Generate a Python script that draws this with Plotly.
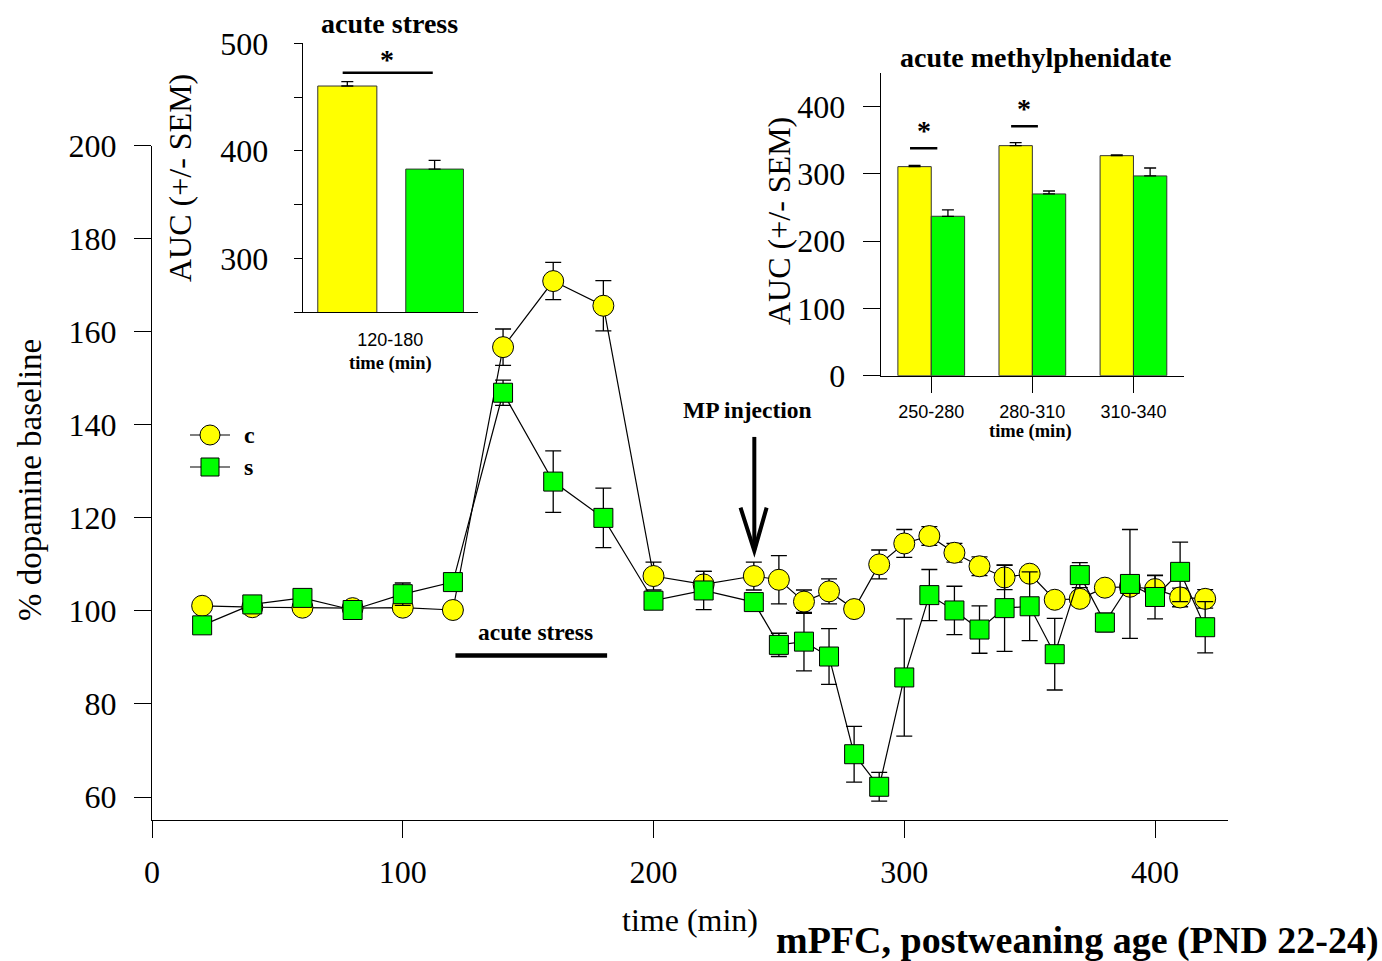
import plotly.graph_objects as go

# ---- time course: % dopamine baseline in mPFC ----
time_min = [20, 40, 60, 80, 100, 120, 140, 160, 180, 200, 220, 240, 250, 260, 270,
            280, 290, 300, 310, 320, 330, 340, 350, 360, 370, 380, 390, 400, 410, 420]
c_mean = [101.1, 100.8, 100.7, 100.6, 100.7, 100.2, 156.7, 170.9, 165.6, 107.5, 105.7,
          107.5, 106.7, 102.0, 104.2, 100.4, 110.0, 114.5, 116.1, 112.5, 109.6, 107.2,
          108.0, 102.4, 102.6, 105.0, 105.2, 104.7, 102.9, 102.6]
c_sem = [1.0, 1.0, 1.0, 1.0, 1.0, 1.0, 3.9, 4.0, 5.4, 3.0, 2.8, 3.0, 5.2, 2.5, 2.7,
         1.5, 3.1, 3.0, 2.0, 2.0, 2.0, 2.6, 1.5, 1.5, 1.5, 1.5, 1.5, 2.9, 2.0, 2.0]
s_mean = [96.9, 101.4, 102.8, 100.2, 103.6, 106.2, 146.9, 127.8, 120.0, 102.2, 104.4,
          101.9, 92.7, 93.4, 90.2, 69.2, 62.2, 85.7, 103.4, 100.1, 96.0, 100.6, 101.0,
          90.7, 107.7, 97.5, 105.8, 103.0, 108.4, 96.5]
s_sem = [1.0, 1.0, 1.0, 1.0, 2.4, 1.5, 2.7, 6.6, 6.4, 1.5, 4.1, 1.0, 2.5, 6.3, 6.0,
         6.0, 3.1, 12.6, 5.5, 5.2, 5.1, 9.3, 7.4, 7.7, 2.7, 2.0, 11.7, 4.7, 6.4, 5.5]

# ---- AUC inset: acute stress ----
stress_window = ["120-180"]
stress_auc_c = [460.3]
stress_sem_c = [4.0]
stress_auc_s = [383.1]
stress_sem_s = [8.1]

# ---- AUC inset: acute methylphenidate ----
mp_window = ["250-280", "280-310", "310-340"]
mp_auc_c = [310.8, 342.0, 327.1]
mp_sem_c = [2.0, 4.5, 1.0]
mp_auc_s = [237.0, 270.2, 297.0]
mp_sem_s = [9.4, 4.4, 11.8]

group_names = ["c", "s"]

W, H = 1382, 961
YELLOW = "#FFFF00"
GREEN = "#00FF00"
SERIF = "Liberation Serif"
SANS = "Liberation Sans"


def px(x):
    return x / W


def py(y):
    return 1 - y / H


fig = go.Figure()

# main time course
fig.add_trace(go.Scatter(
    x=time_min, y=c_mean, name=group_names[0], mode="lines+markers",
    line=dict(color="black", width=1.2),
    marker=dict(symbol="circle", size=21, color=YELLOW, line=dict(color="black", width=1)),
    error_y=dict(type="data", array=c_sem, color="black", thickness=1.3, width=8),
    xaxis="x", yaxis="y", showlegend=False,
))
fig.add_trace(go.Scatter(
    x=time_min, y=s_mean, name=group_names[1], mode="lines+markers",
    line=dict(color="black", width=1.2),
    marker=dict(symbol="square", size=19, color=GREEN, line=dict(color="black", width=1)),
    error_y=dict(type="data", array=s_sem, color="black", thickness=1.3, width=8),
    xaxis="x", yaxis="y", showlegend=False,
))

bar_line = dict(color="#333333", width=1)

# acute stress AUC bars
fig.add_trace(go.Bar(
    x=stress_window, y=stress_auc_c, marker=dict(color=YELLOW, line=bar_line),
    width=0.337, offset=-0.414, showlegend=False,
    error_y=dict(type="data", array=stress_sem_c, arrayminus=[0] * len(stress_sem_c),
                 symmetric=False, color="black", thickness=1.3, width=6),
    xaxis="x2", yaxis="y2",
))
fig.add_trace(go.Bar(
    x=stress_window, y=stress_auc_s, marker=dict(color=GREEN, line=bar_line),
    width=0.329, offset=0.088, showlegend=False,
    error_y=dict(type="data", array=stress_sem_s, arrayminus=[0] * len(stress_sem_s),
                 symmetric=False, color="black", thickness=1.3, width=6),
    xaxis="x2", yaxis="y2",
))

# methylphenidate AUC bars
fig.add_trace(go.Bar(
    x=mp_window, y=mp_auc_c, marker=dict(color=YELLOW, line=bar_line),
    width=0.33, offset=-0.33, showlegend=False,
    error_y=dict(type="data", array=mp_sem_c, arrayminus=[0] * len(mp_sem_c),
                 symmetric=False, color="black", thickness=1.3, width=6),
    xaxis="x3", yaxis="y3",
))
fig.add_trace(go.Bar(
    x=mp_window, y=mp_auc_s, marker=dict(color=GREEN, line=bar_line),
    width=0.33, offset=0.0, showlegend=False,
    error_y=dict(type="data", array=mp_sem_s, arrayminus=[0] * len(mp_sem_s),
                 symmetric=False, color="black", thickness=1.3, width=6),
    xaxis="x3", yaxis="y3",
))

axis_common = dict(showgrid=False, zeroline=False, showline=True, linecolor="black",
                   linewidth=1.3, tickcolor="black", tickwidth=1.3, automargin=False)

fig.update_layout(
    template="none",
    width=W, height=H,
    margin=dict(l=0, r=0, t=0, b=0, autoexpand=False),
    paper_bgcolor="white", plot_bgcolor="rgba(0,0,0,0)",
    barmode="overlay",
    showlegend=False,
    xaxis=dict(**axis_common, domain=[px(152), px(1228)], range=[0, 429.1],
               tickvals=[0, 100, 200, 300, 400], ticks="outside", ticklen=17,
               ticklabelstandoff=6,
               tickfont=dict(family=SERIF, size=32, color="black"), anchor="y"),
    yaxis=dict(**axis_common, domain=[py(820), py(145.7)], range=[55.06, 200],
               tickvals=[60, 80, 100, 120, 140, 160, 180, 200], ticks="outside", ticklen=17,
               ticklabelstandoff=11,
               tickfont=dict(family=SERIF, size=32, color="black"), anchor="x"),
    xaxis2=dict(**axis_common, domain=[px(302.7), px(478)], range=[-0.5, 0.5],
                type="category", ticks="", ticklabelstandoff=11,
                tickfont=dict(family=SANS, size=18, color="black"), anchor="y2"),
    yaxis2=dict(**axis_common, domain=[py(312.3), py(43.3)], range=[250, 500],
                tickvals=[250, 300, 350, 400, 450, 500],
                ticktext=["", "300", "", "400", "", "500"],
                ticks="outside", ticklen=8, ticklabelstandoff=19,
                tickfont=dict(family=SERIF, size=32, color="black"), anchor="x2"),
    xaxis3=dict(**axis_common, domain=[px(880.7), px(1184)], range=[-0.5, 2.5],
                type="category", ticks="outside", ticklen=16, ticklabelstandoff=4,
                tickfont=dict(family=SANS, size=18, color="black"), anchor="y3"),
    yaxis3=dict(**axis_common, domain=[py(375.7), py(73)], range=[0, 450],
                tickvals=[0, 100, 200, 300, 400], ticks="outside", ticklen=17,
                ticklabelstandoff=11,
                tickfont=dict(family=SERIF, size=32, color="black"), anchor="x3"),
)

shapes = [
    # stress period bar under the time course
    dict(type="line", xref="x", yref="y", x0=121, x1=181.5, y0=90.4, y1=90.4,
         line=dict(color="black", width=4.5)),
    # MP injection arrow
    dict(type="line", xref="x", yref="y", x0=240.2, x1=240.2, y0=137.4, y1=113.2,
         line=dict(color="black", width=4)),
    dict(type="path", xref="x", yref="y",
         path="M 234.7,122.2 L 240.2,112.9 L 245.1,122.2",
         line=dict(color="black", width=4)),
    # significance bars
    dict(type="line", xref="x2", yref="y2", x0=-0.272, x1=0.242, y0=472.7, y1=472.7,
         line=dict(color="black", width=2.5)),
    dict(type="line", xref="x3", yref="y3", x0=-0.21, x1=0.06, y0=338, y1=338,
         line=dict(color="black", width=2.5)),
    dict(type="line", xref="x3", yref="y3", x0=0.79, x1=1.055, y0=371, y1=371,
         line=dict(color="black", width=2.5)),
    # legend key: c (circle) and s (square)
    dict(type="line", xref="paper", yref="paper", x0=px(190), x1=px(230),
         y0=py(435), y1=py(435), line=dict(color="black", width=1.2)),
    dict(type="circle", xref="paper", yref="paper", x0=px(200), x1=px(220),
         y0=py(445), y1=py(425), fillcolor=YELLOW, line=dict(color="black", width=1)),
    dict(type="line", xref="paper", yref="paper", x0=px(190), x1=px(230),
         y0=py(467), y1=py(467), line=dict(color="black", width=1.2)),
    dict(type="rect", xref="paper", yref="paper", x0=px(201), x1=px(219),
         y0=py(476), y1=py(458), fillcolor=GREEN, line=dict(color="black", width=1)),
]
fig.update_layout(shapes=shapes)


def label(text, x, y, size, bold=False, family=SERIF, angle=0, anchor="center"):
    return dict(text=text, x=px(x), y=py(y), xref="paper", yref="paper",
                showarrow=False, xanchor=anchor, yanchor="middle", textangle=angle,
                font=dict(family=family, size=size, color="black",
                          weight="bold" if bold else "normal"))


annotations = [
    label(group_names[0], 242, 435, 24, bold=True, anchor="left"),
    label(group_names[1], 242, 467, 24, bold=True, anchor="left"),
    label("% dopamine baseline", 30, 480, 33, angle=-90),
    label("time (min)", 690, 920, 32),
    label("mPFC, postweaning age (PND 22-24)", 1077, 940, 38, bold=True),
    label("acute stress", 535, 632, 23.5, bold=True),
    label("MP injection", 747, 410, 23.5, bold=True),
    # acute stress inset
    label("acute stress", 389, 24, 28, bold=True),
    label("*", 387, 60, 28, bold=True),
    label("AUC (+/- SEM)", 180, 178, 32, angle=-90),
    label("time (min)", 390, 363, 18.5, bold=True),
    # methylphenidate inset
    label("acute methylphenidate", 1035, 58, 28, bold=True),
    label("*", 924, 131, 28, bold=True),
    label("*", 1024, 108, 28, bold=True),
    label("AUC (+/- SEM)", 779, 221, 32, angle=-90),
    label("time (min)", 1030, 432, 18.5, bold=True),
]
fig.update_layout(annotations=annotations)

fig.write_html("out.html")
